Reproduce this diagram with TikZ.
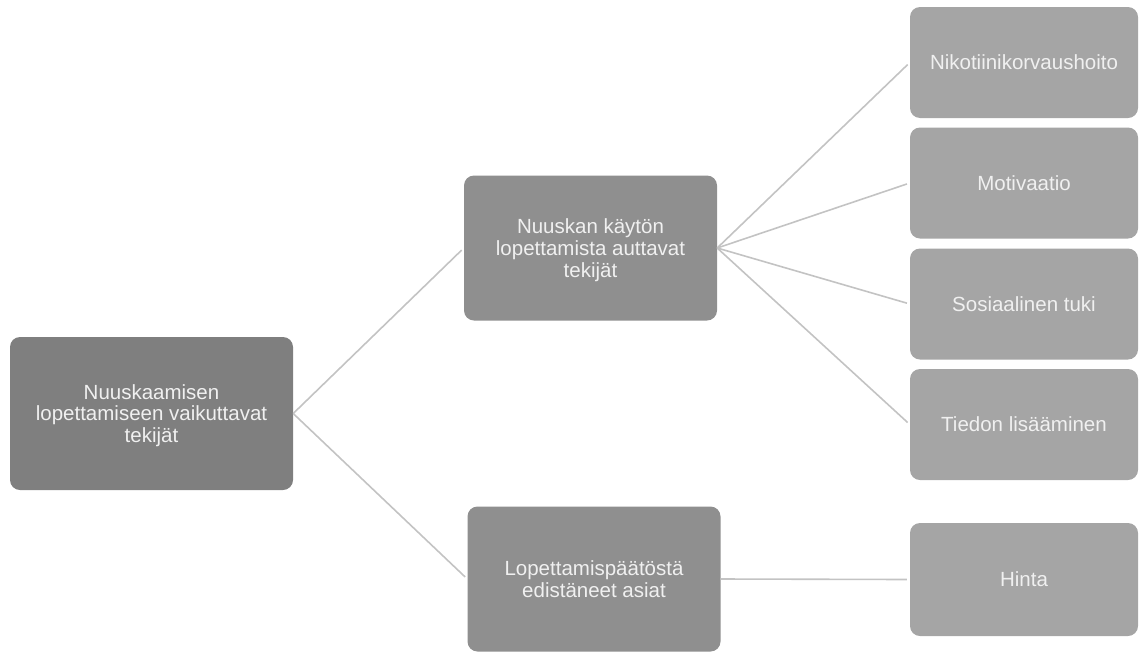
\documentclass[tikz,border=0pt]{standalone}
\usepackage{fontspec}
\setmainfont{Liberation Sans}
\definecolor{rootgray}{HTML}{7F7F7F}
\definecolor{midgray}{HTML}{8F8F8F}
\definecolor{leafgray}{HTML}{A5A5A5}
\definecolor{txtgray}{HTML}{F0F0F0}
\definecolor{linegray}{HTML}{C3C3C3}
\begin{document}
\begin{tikzpicture}[x=1pt,y=-1pt,
  box/.style={rounded corners=10pt, inner sep=0pt, align=center, text depth=0pt,
    text=txtgray, font=\fontsize{20.5}{21.8}\selectfont},
  rootbox/.style={box, fill=rootgray, minimum width=283pt, minimum height=153pt},
  midbox/.style={box, fill=midgray, minimum width=253pt, minimum height=145pt},
  leafbox/.style={box, fill=leafgray, minimum width=228pt, minimum height=111pt},
  conn/.style={draw=linegray, line width=1.6pt, shorten >=3pt}]
\useasboundingbox (0,0) rectangle (1139,654);
\node[rootbox] (root) at (151.5,413.5) {Nuuskaamisen\\lopettamiseen vaikuttavat\\tekijät};
\node[midbox] (m1) at (590.5,248) {Nuuskan käytön\\lopettamista auttavat\\tekijät};
\node[midbox] (m2) at (594,579) {Lopettamispäätöstä\\edistäneet asiat};
\node[leafbox] (l1) at (1024,62.5) {Nikotiinikorvaushoito};
\node[leafbox] (l2) at (1024,183) {Motivaatio};
\node[leafbox] (l3) at (1024,304) {Sosiaalinen tuki};
\node[leafbox] (l4) at (1024,424.5) {Tiedon lisääminen};
\node[leafbox, minimum height=113pt] (l5) at (1024,579.5) {Hinta};
\draw[conn] (root.east) -- (m1.west);
\draw[conn] (root.east) -- (m2.west);
\draw[conn] (m1.east) -- (l1.west);
\draw[conn] (m1.east) -- (l2.west);
\draw[conn] (m1.east) -- (l3.west);
\draw[conn] (m1.east) -- (l4.west);
\draw[conn] (m2.east) -- (l5.west);
\end{tikzpicture}
\end{document}
